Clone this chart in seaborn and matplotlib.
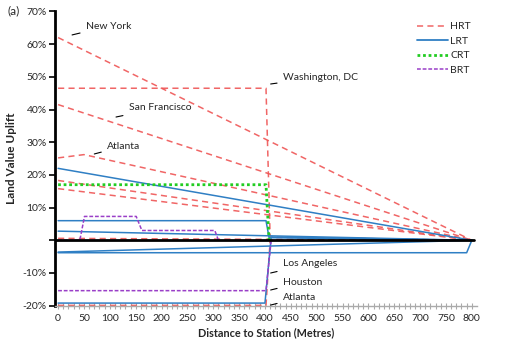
import matplotlib
matplotlib.use("Agg")
import matplotlib.pyplot as plt
from matplotlib.lines import Line2D
import seaborn as sns
import pandas as pd

sns.set_theme(style="white")
plt.rcParams['font.family'] = ['Lato', 'DejaVu Sans']

# ---- data (distance in metres, uplift in %) ----
hrt_newyork_x = [0, 800];                 hrt_newyork_y = [62, 0]
hrt_dc_x = [0, 402, 410, 800];            hrt_dc_y = [46.5, 46.5, 1.0, 0]
hrt_sf_x = [0, 800];                      hrt_sf_y = [41.5, 0]
hrt_atl_x = [0, 50, 800];                 hrt_atl_y = [25.2, 26.2, 0]
hrt_a_x = [0, 800];                       hrt_a_y = [18.3, 0]
hrt_b_x = [0, 800];                       hrt_b_y = [15.8, 0]
hrt_c_x = [0, 800];                       hrt_c_y = [0.6, 0]
hrt_atl2_x = [0, 402, 410, 800];          hrt_atl2_y = [-19.9, -19.9, 0, 0]

lrt_a_x = [0, 800];                       lrt_a_y = [22, 0]
lrt_b_x = [0, 402, 408, 800];             lrt_b_y = [6, 6, 0.8, 0]
lrt_c_x = [0, 800];                       lrt_c_y = [2.8, 0]
lrt_d_x = [0, 790, 800];                  lrt_d_y = [-3.8, -3.8, 0]
lrt_e_x = [0, 800];                       lrt_e_y = [-3.6, 0]
lrt_la_x = [0, 400, 412, 800];            lrt_la_y = [-19.2, -19.2, 1.0, 0]

crt_x = [0, 402, 408];                    crt_y = [17, 17, 0]

brt_a_x = [0, 42, 51, 151, 162, 303, 310]; brt_a_y = [0, 0, 7.3, 7.3, 3, 3, 0]
brt_hou_x = [0, 402, 412];                brt_hou_y = [-15.4, -15.4, 0]

modes = ["HRT", "LRT", "CRT", "BRT"]
x_ticks = list(range(0, 801, 50))
y_ticks = [-20, -10, 0, 10, 20, 30, 40, 50, 60, 70]

labels = [  # (text, point x, point y, text x, text y)
    ("New York", 27, 62.8, 54, 65.5),
    ("Washington, DC", 411, 47.8, 435, 49.9),
    ("San Francisco", 112, 37.7, 137, 40.5),
    ("Atlanta", 70, 26.4, 95, 28.8),
    ("Los Angeles", 411, -10, 435, -7.2),
    ("Houston", 411, -15.2, 435, -12.8),
    ("Atlanta", 411, -19.8, 435, -17.6),
]

series = [
    ("HRT", hrt_newyork_x, hrt_newyork_y), ("HRT", hrt_dc_x, hrt_dc_y),
    ("HRT", hrt_sf_x, hrt_sf_y), ("HRT", hrt_atl_x, hrt_atl_y),
    ("HRT", hrt_a_x, hrt_a_y), ("HRT", hrt_b_x, hrt_b_y),
    ("HRT", hrt_c_x, hrt_c_y), ("HRT", hrt_atl2_x, hrt_atl2_y),
    ("LRT", lrt_a_x, lrt_a_y), ("LRT", lrt_b_x, lrt_b_y),
    ("LRT", lrt_c_x, lrt_c_y), ("LRT", lrt_d_x, lrt_d_y),
    ("LRT", lrt_e_x, lrt_e_y), ("LRT", lrt_la_x, lrt_la_y),
    ("CRT", crt_x, crt_y),
    ("BRT", brt_a_x, brt_a_y), ("BRT", brt_hou_x, brt_hou_y),
]

styles = {
    "HRT": dict(color="#ef5555", lw=1.1, dashes=(4.0, 2.8), alpha=0.9),
    "LRT": dict(color="#2f7fc4", lw=1.1, dashes=(None, None), alpha=1.0),
    "CRT": dict(color="#22cc22", lw=2.0, dashes=(1.0, 1.0), alpha=1.0),
    "BRT": dict(color="#9a3fc8", lw=1.1, dashes=(2.5, 1.2), alpha=1.0),
}

fig = plt.figure(figsize=(5.2, 3.5), dpi=100)
ax = fig.add_axes([55 / 520, 1 - 305.7 / 350, (477 - 55) / 520, (305.7 - 11.4) / 350])

order = {"HRT": 2, "LRT": 3, "CRT": 4, "BRT": 5}
for mode, xs, ys in series:
    st = styles[mode]
    df = pd.DataFrame({"x": xs, "y": ys})
    sns.lineplot(data=df, x="x", y="y", ax=ax, sort=False, estimator=None,
                 color=st["color"], lw=st["lw"], alpha=st["alpha"], zorder=order[mode])
    line = ax.lines[-1]
    if st["dashes"][0] is not None:
        line.set_dashes(st["dashes"])

ax.axhline(0, color="black", lw=2.0, zorder=6, xmin=0, xmax=(805 + 6) / 816)

ax.set_xlim(-6, 810)
ax.set_ylim(-20, 70)
ax.set_xticks(x_ticks)
ax.set_xticklabels([str(v) for v in x_ticks], fontsize=7.5)
ax.set_xticks(list(range(0, 801, 10)), minor=True)
ax.set_yticks(y_ticks)
ax.set_yticklabels(["" if v == 0 else f"{v}%" for v in y_ticks], fontsize=7.5)

for s in ["top", "right"]:
    ax.spines[s].set_visible(False)
ax.spines["left"].set_color("black")
ax.spines["left"].set_linewidth(2.0)
ax.spines["bottom"].set_color("#aaaaaa")
ax.spines["bottom"].set_linewidth(1.0)
ax.spines["bottom"].set_bounds(-6, 810)
ax.tick_params(axis="y", which="major", direction="out", length=4, width=1.2,
               color="black", left=True, pad=2)
ax.tick_params(axis="x", which="both", direction="inout", length=4, width=0.8,
               color="#aaaaaa", bottom=True, pad=4)
ax.grid(False)

ax.set_xlabel("Distance to Station (Metres)", fontsize=7.8, fontweight="bold", labelpad=3)
ax.set_ylabel("Land Value Uplift", fontsize=8.5, fontweight="bold", labelpad=4)

for txt, px, py, tx, ty in labels:
    ax.annotate(txt, xy=(px, py), xytext=(tx, ty), fontsize=7.5, ha="left", va="center",
                arrowprops=dict(arrowstyle="-", color="black", lw=0.8,
                                shrinkA=2, shrinkB=0), zorder=8)

handles = []
for m in modes:
    st = styles[m]
    h = Line2D([0], [0], color=st["color"], lw=st["lw"] if m != "LRT" else 1.3, alpha=st["alpha"])
    if st["dashes"][0] is not None:
        h.set_dashes(st["dashes"])
    handles.append(h)
leg = ax.legend(handles, modes, loc="upper right", bbox_to_anchor=(1.0, 0.985), frameon=False,
                fontsize=7.5, handlelength=3.0, handletextpad=0.2, labelspacing=0.5,
                borderaxespad=0.2)

fig.text(8 / 520, 1 - 11 / 350, "(a)", fontsize=8.5, ha="left", va="center")

fig.savefig("out.png", dpi=100)
